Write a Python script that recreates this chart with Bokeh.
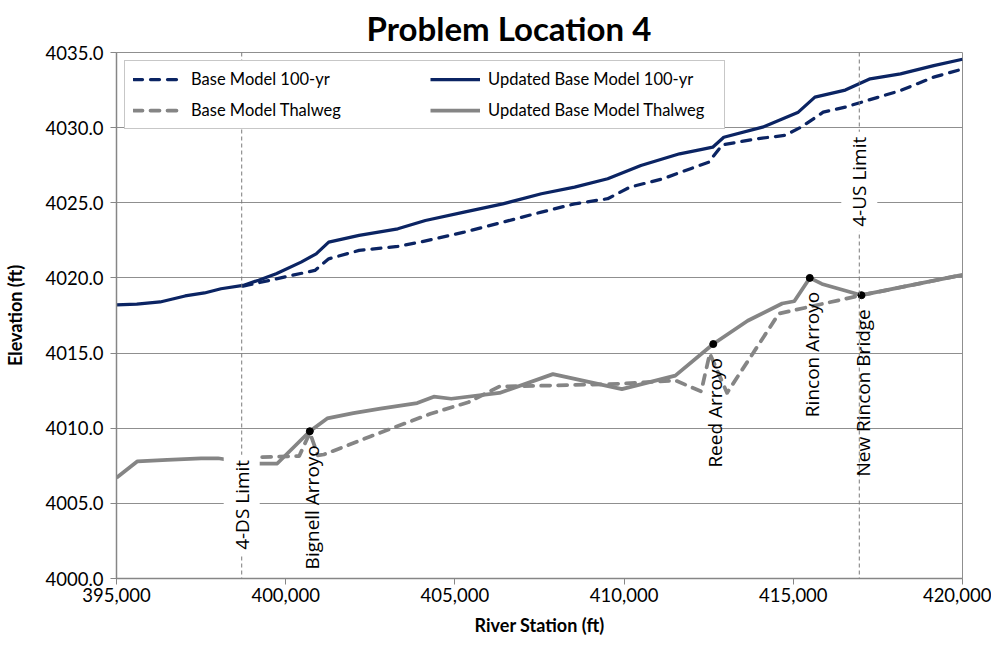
import math
from bokeh.plotting import figure
from bokeh.models import (Range1d, SingleIntervalTicker, NumeralTickFormatter, Span, Label,
                          LabelSet, ColumnDataSource, Legend, LegendItem)
from bokeh.core.properties import value
from bokeh.embed import file_html
from bokeh.resources import INLINE

TITLE = "Problem Location 4"
X_LABEL = "River Station (ft)"
Y_LABEL = "Elevation (ft)"

# Updated Base Model 100-yr water surface
upd_100_station = [395000, 395600, 396290, 397027, 397600, 398088, 398741, 399200, 399719,
                   400455, 400900, 401271, 402169, 403313, 404128, 405272, 406415, 407556,
                   408537, 409515, 410496, 411640, 412300, 412618, 412946, 414090, 415148,
                   415638, 416536, 417272, 418168, 419149, 420000]
upd_100_elev = [4018.2, 4018.25, 4018.4, 4018.8, 4019.0, 4019.28, 4019.5, 4019.85, 4020.28,
                4021.05, 4021.6, 4022.38, 4022.83, 4023.27, 4023.82, 4024.38, 4024.93, 4025.6,
                4026.04, 4026.6, 4027.48, 4028.26, 4028.55, 4028.7, 4029.36, 4030.03, 4031.03,
                4032.03, 4032.5, 4033.25, 4033.58, 4034.13, 4034.55]

# Base Model 100-yr water surface
base_100_station = [398741, 399719, 400862, 401271, 402169, 403313, 403966, 405272, 406415,
                    407556, 408537, 409515, 410169, 411150, 411965, 412500, 412900, 413924,
                    414740, 415230, 415883, 416536, 417190, 418168, 419149, 420000]
base_100_elev = [4019.45, 4019.94, 4020.5, 4021.27, 4021.83, 4022.1, 4022.38, 4023.05, 4023.71,
                 4024.38, 4024.93, 4025.27, 4026.04, 4026.6, 4027.27, 4027.7, 4028.85, 4029.26,
                 4029.48, 4030.03, 4031.03, 4031.37, 4031.81, 4032.47, 4033.36, 4033.9]

# Updated Base Model Thalweg
upd_th_station = [395000, 395620, 396500, 397500, 398000, 399000, 399750, 400713, 401226,
                  402000, 402800, 403886, 404377, 404891, 406318, 407896, 409935, 411513,
                  412635, 413652, 414672, 415029, 415487, 415845, 417015, 420000]
upd_th_elev = [4006.7, 4007.8, 4007.9, 4008.0, 4008.0, 4007.65, 4007.65, 4009.8, 4010.65,
               4011.0, 4011.3, 4011.67, 4012.1, 4011.96, 4012.35, 4013.6, 4012.6, 4013.5,
               4015.6, 4017.15, 4018.3, 4018.45, 4020.0, 4019.6, 4018.85, 4020.2]

# Base Model Thalweg
base_th_station = [398300, 399058, 400400, 400713, 400950, 401128, 402500, 404279, 405399,
                   406318, 407896, 409935, 411513, 412278, 412532, 413043, 414571, 415079,
                   417015, 420000]
base_th_elev = [4008.0, 4008.05, 4008.15, 4009.7, 4008.2, 4008.25, 4009.45, 4010.96, 4011.73,
                4012.78, 4012.84, 4012.96, 4013.18, 4012.45, 4014.97, 4012.35, 4017.62, 4017.88,
                4018.85, 4020.2]

# Annotated features (on the updated thalweg)
annot_station = [400713, 412635, 415487, 417015]
annot_elev = [4009.8, 4015.6, 4020.0, 4018.85]
annot_text = ["Bignell Arroyo", "Reed Arroyo", "Rincon Arroyo", "New Rincon Bridge"]

# Reach limits
limit_station = [398700, 416950]
limit_text = ["4-DS Limit", "4-US Limit"]
limit_label_elev = [4004.9, 4026.4]

NAVY = "#0B2463"
GRAY = "#858585"
AXIS_GRAY = "#868686"
GRID_GRAY = "#8f8f8f"

p = figure(width=991, height=640,
           x_range=Range1d(395000, 420000), y_range=Range1d(4000, 4035),
           output_backend="svg", toolbar_location=None,
           min_border_left=116, min_border_right=29, min_border_top=52, min_border_bottom=62,
           background_fill_color="white", border_fill_color="white")
p.outline_line_color = GRID_GRAY
p.outline_line_width = 1

p.title.text = TITLE
p.title.align = "left"
p.title.offset = 250
p.title.standoff = 10
p.title.text_font = "Lato"
p.title.text_font_style = "bold"
p.title.text_font_size = "33px"
p.title.text_color = "#000000"

p.xgrid.visible = False
p.ygrid.ticker = SingleIntervalTicker(interval=5)
p.ygrid.grid_line_color = GRID_GRAY
p.ygrid.grid_line_width = 1

p.xaxis.ticker = SingleIntervalTicker(interval=5000)
p.xaxis.formatter = NumeralTickFormatter(format="0,0")
p.yaxis.ticker = SingleIntervalTicker(interval=5)
p.yaxis.formatter = NumeralTickFormatter(format="0.0")
for ax in (p.xaxis[0], p.yaxis[0]):
    ax.axis_line_color = AXIS_GRAY
    ax.axis_line_width = 1.5
    ax.major_tick_line_color = AXIS_GRAY
    ax.major_tick_out = 6
    ax.major_tick_in = 0
    ax.minor_tick_line_color = None
    ax.major_label_text_font = "Lato"
    ax.major_label_text_font_size = "18.5px"
    ax.major_label_text_color = "#000000"
    ax.axis_label_text_font = "Lato"
    ax.axis_label_text_font_style = "bold"
    ax.axis_label_text_font_size = "18px"
    ax.axis_label_text_color = "#000000"
p.xaxis.major_label_standoff = 3
p.yaxis.major_label_standoff = 7
p.xaxis.axis_label = X_LABEL
p.xaxis.axis_label_standoff = 9
p.yaxis.axis_label = Y_LABEL
p.yaxis.axis_label_standoff = 16

# Data lines
r_b100 = p.line(base_100_station, base_100_elev, line_color=NAVY, line_width=3.25,
                line_dash="9 8", line_cap="round", line_join="round")
r_u100 = p.line(upd_100_station, upd_100_elev, line_color=NAVY, line_width=3.25,
                line_join="round")
r_bth = p.line(base_th_station, base_th_elev, line_color=GRAY, line_width=3.75,
               line_dash="9 8", line_cap="round", line_join="round")
r_uth = p.line(upd_th_station, upd_th_elev, line_color=GRAY, line_width=3.75,
               line_join="round")

# Reach limit lines and labels
for s in limit_station:
    p.add_layout(Span(location=s, dimension="height", line_color="#7a7a7a",
                      line_width=1, line_dash="4 3"))
for s, e, t in zip(limit_station, limit_label_elev, limit_text):
    p.add_layout(Label(x=s, y=e, text=t, angle=math.pi / 2,
                       text_align="center", text_baseline="middle",
                       text_font="Open Sans", text_font_size="19px", text_color="#000000",
                       background_fill_color="white", padding=5))

# Feature points and labels
p.scatter(annot_station, annot_elev, size=7, color="black")
annot_src = ColumnDataSource(data=dict(x=annot_station, y=annot_elev, text=annot_text))
p.add_layout(LabelSet(x="x", y="y", text="text", source=annot_src, angle=math.pi / 2,
                      text_align="right", text_baseline="middle", x_offset=2, y_offset=-14,
                      text_font=value("Open Sans"), text_font_size=value("19px"),
                      text_color="#000000"))

legend = Legend(items=[
    LegendItem(label="Base Model 100-yr", renderers=[r_b100]),
    LegendItem(label="Updated Base Model 100-yr", renderers=[r_u100]),
    LegendItem(label="Base Model Thalweg", renderers=[r_bth]),
    LegendItem(label="Updated Base Model Thalweg", renderers=[r_uth]),
], location="top_left", orientation="horizontal", ncols=2, margin=8, padding=8, spacing=11,
    glyph_width=50, glyph_height=20, label_standoff=8, label_width=228,
    label_text_font="Lato", label_text_font_size="16.5px", label_text_color="#000000",
    border_line_color=GRID_GRAY, border_line_width=1, background_fill_color="white",
    background_fill_alpha=1.0)
p.add_layout(legend)

open("out.html", "w").write(file_html(p, INLINE))
